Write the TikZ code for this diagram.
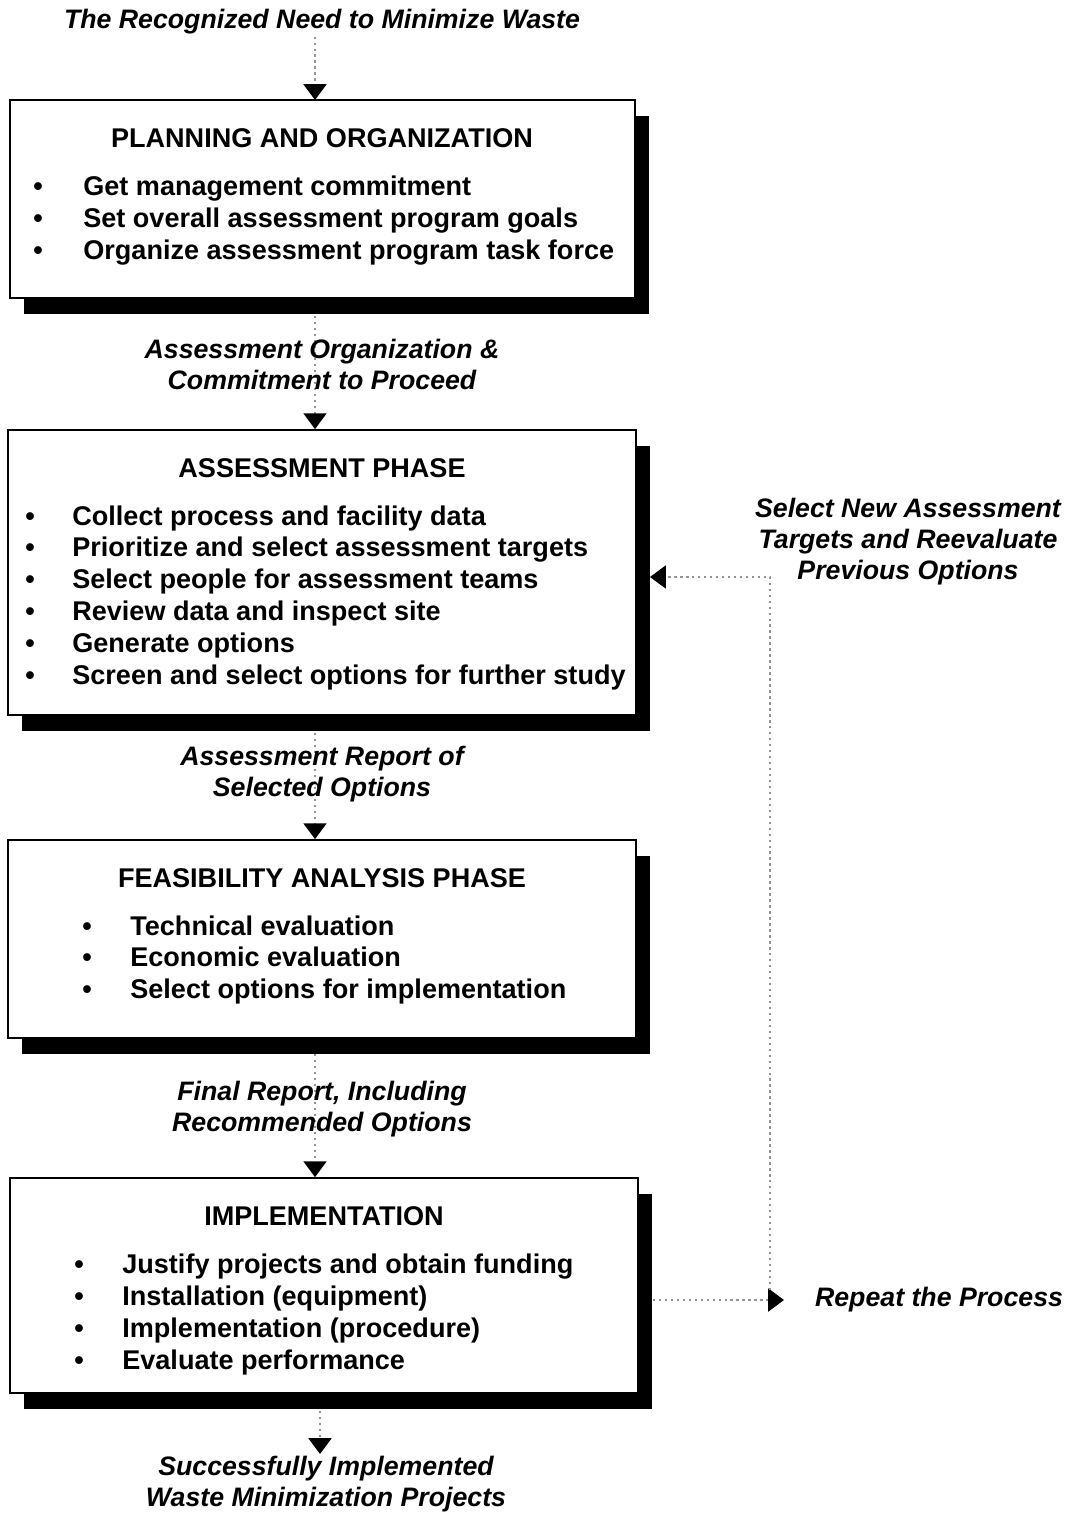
\documentclass[tikz,border=0pt]{standalone}
\usepackage{fontspec}
\setmainfont{Liberation Sans}
\usetikzlibrary{arrows.meta,shadows,backgrounds,positioning}

\tikzset{
  phase/.style={draw, line width=1pt, fill=white, inner sep=0pt,
    drop shadow={shadow xshift=0.28cm, shadow yshift=-0.32cm, fill=black, opacity=1}},
  head/.style={font=\bfseries\fontsize{15.4}{18}\selectfont},
  item/.style={anchor=west, inner sep=0pt, text height=11pt, text depth=3pt,
    font=\bfseries\fontsize{15.4}{18}\selectfont},
  dot/.style={inner sep=0pt, text height=11pt, text depth=3pt,
    font=\bfseries\fontsize{15.4}{18}\selectfont},
  flowlbl/.style={align=center, inner sep=1pt,
    font=\bfseries\itshape\fontsize{15.2}{17.6}\selectfont},
  flow/.style={gray!85, dotted, line width=1.4pt,
    -{Triangle[width=13pt,length=9pt,color=black]}}
}

\begin{document}
\begin{tikzpicture}[x=0.02cm, y=-0.02cm]
    \useasboundingbox (0,0) rectangle (1070,1514);

    % Boxes
    \node[phase, minimum width=12.5cm, minimum height=3.96cm] (plan) at (322.5,199) {};
    \node[phase, minimum width=12.56cm, minimum height=5.7cm] (assess) at (322,572.5) {};
    \node[phase, minimum width=12.56cm, minimum height=3.96cm] (feas) at (322,939) {};
    \node[phase, minimum width=12.56cm, minimum height=4.3cm] (impl) at (324,1285.5) {};

    % Headings
    \node[head] (planhd) at (322,138) {PLANNING AND ORGANIZATION};
    \node[head] (assesshd) at (322,468) {ASSESSMENT PHASE};
    \node[head] (feashd) at (322,878) {FEASIBILITY ANALYSIS PHASE};
    \node[head] (implhd) at (324,1216) {IMPLEMENTATION};

    % Bullet lists
    \foreach \t [count=\i] in {Get management commitment,
        Set overall assessment program goals,
        Organize assessment program task force} {
      \node[item] (pa\i) at (83,{188+32*(\i-1)}) {\t};
      \node[dot] at (38,{188+32*(\i-1)}) {\textbullet};
    }
    \foreach \t [count=\i] in {Collect process and facility data,
        Prioritize and select assessment targets,
        Select people for assessment teams,
        Review data and inspect site,
        Generate options,
        Screen and select options for further study} {
      \node[item] (pb\i) at (72,{518+31.8*(\i-1)}) {\t};
      \node[dot] at (30,{518+31.8*(\i-1)}) {\textbullet};
    }
    \foreach \t [count=\i] in {Technical evaluation,
        Economic evaluation,
        Select options for implementation} {
      \node[item] (pc\i) at (130,{928+31.5*(\i-1)}) {\t};
      \node[dot] at (87,{928+31.5*(\i-1)}) {\textbullet};
    }
    \foreach \t [count=\i] in {Justify projects and obtain funding,
        Installation (equipment),
        Implementation (procedure),
        Evaluate performance} {
      \node[item] (pd\i) at (122,{1266+32*(\i-1)}) {\t};
      \node[dot] at (79,{1266+32*(\i-1)}) {\textbullet};
    }

    % Flow labels
    \node[flowlbl] (need) at (322,22) {The Recognized Need to Minimize Waste};
    \node[flowlbl] (commit) at (322,364) {Assessment Organization \&\\Commitment to Proceed};
    \node[flowlbl] (report) at (322,774) {Assessment Report of\\Selected Options};
    \node[flowlbl] (final) at (322,1109) {Final Report, Including\\Recommended Options};
    \node[flowlbl] (done) at (326,1484) {Successfully Implemented\\Waste Minimization Projects};
    \node[flowlbl] (select) at (908,542) {Select New Assessment\\Targets and Reevaluate\\Previous Options};
    \node[flowlbl, anchor=west] (repeat) at (813,1300) {Repeat the Process};

    % Connectors
    \coordinate (loopbot) at (770,1290);
    \coordinate (loopin) at (650,577);
    \begin{scope}[on background layer]
      \draw[flow] (need.south -| 315,0) -- (315,100);
      \draw[flow] (315,316) -- (assess.north -| 315,0);
      \draw[flow] (315,733) -- (feas.north -| 315,0);
      \draw[flow] (315,1054) -- (impl.north -| 315,0);
      \draw[flow] (320,1411) -- (done.north -| 320,0);
    \end{scope}
    \draw[flow, shorten >=0.58cm] (impl.east |- repeat.west) ++(14,0) -- (repeat.west);
    \draw[flow] (loopbot) |- (loopin);
\end{tikzpicture}
\end{document}
